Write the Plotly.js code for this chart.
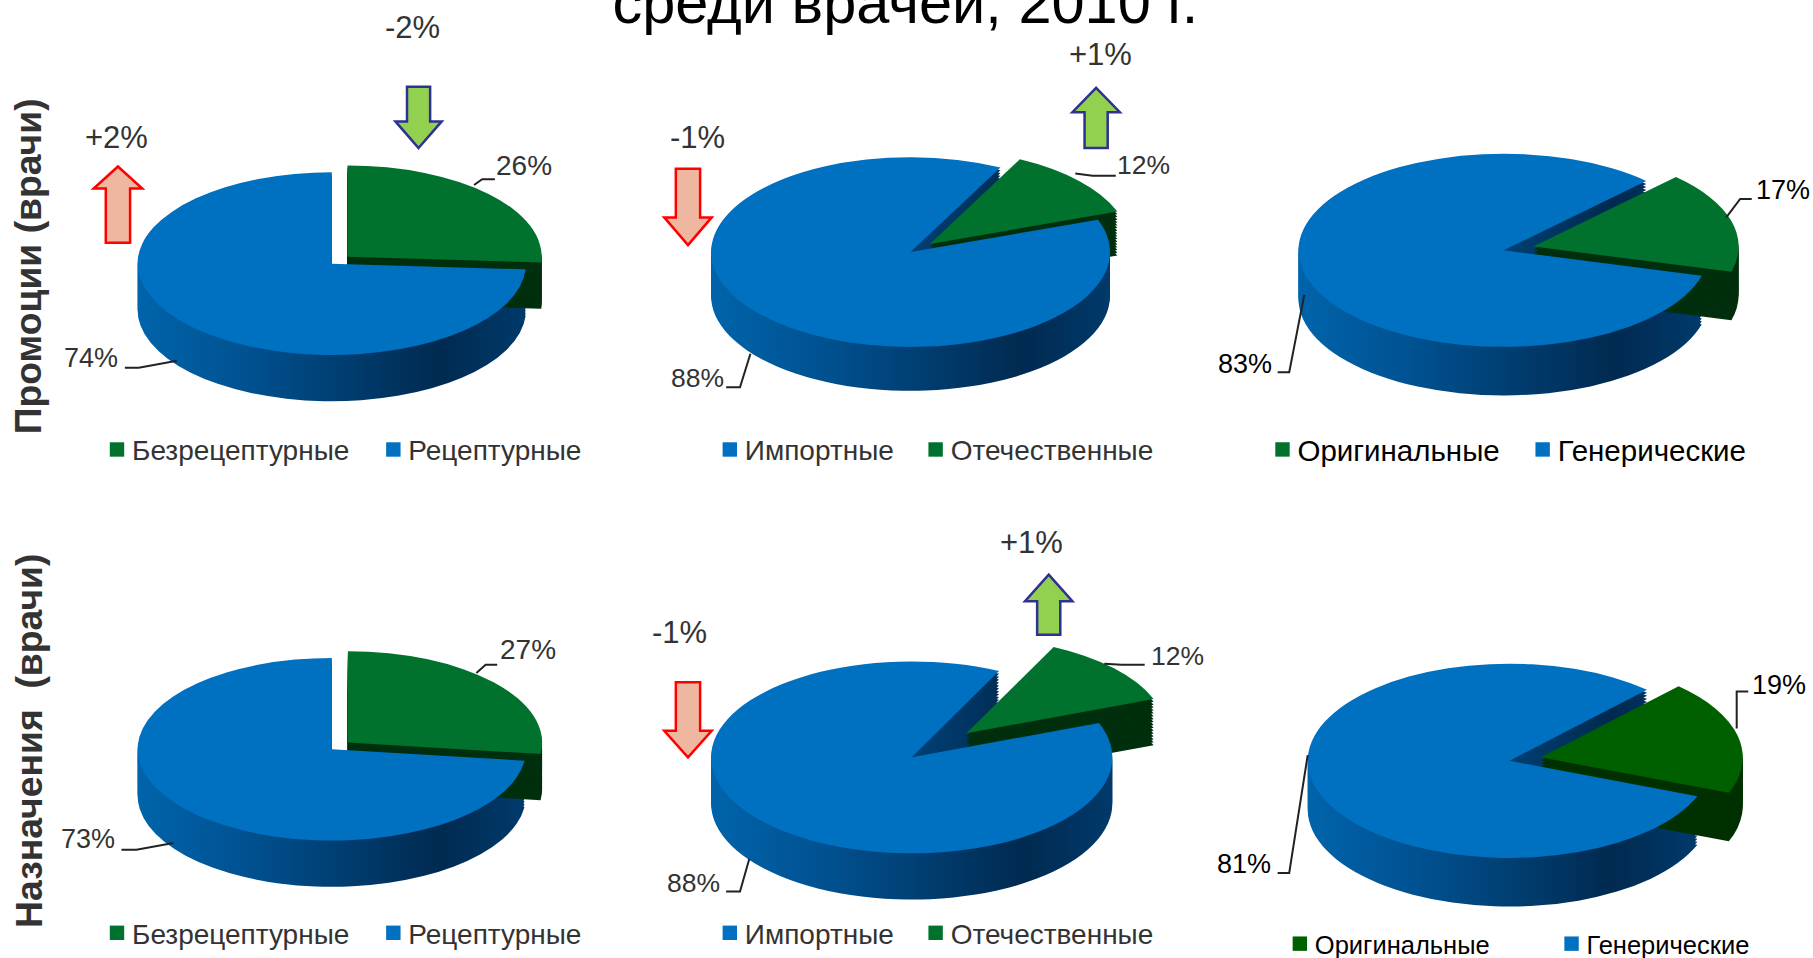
<!DOCTYPE html>
<html><head><meta charset="utf-8">
<script src="https://cdn.plot.ly/plotly-3.0.1.min.js"></script>
<style>html,body{margin:0;padding:0;background:#fff;overflow:hidden}#chart{width:1813px;height:958px}</style>
</head><body><div id="chart"></div>
<script>
// ---- data ----
const chartTitle = 'среди врачей, 2010 г.';
const rowTitles = ['Промоции (врачи)', 'Назначения  (врачи)'];
const labelsOtc = ['Безрецептурные', 'Рецептурные'];
const labelsImp = ['Импортные', 'Отечественные'];
const labelsOrig = ['Оригинальные', 'Генерические'];
const valuesA = [26, 74];
const valuesB = [88, 12];
const valuesC = [17, 83];
const valuesD = [27, 73];
const valuesE = [88, 12];
const valuesF = [19, 81];
const deltasA = ['+2%', '-2%'];
const deltasB = ['-1%', '+1%'];
const deltasE = ['-1%', '+1%'];

// ---- layout helpers (reference picture coordinates, shrunk frame) ----
const W = 1813, H = 958, S = 1813 / 1568;
const fx = x => x * S / W, fy = y => 1 - y * S / H;
const BLUE = '#0070c0', GREEN = '#00722d', GREEN2 = '#006000';
const DARK = '#002f0e', DARK2 = '#003000', WALL = '#00508f', NONE = 'rgba(0,0,0,0)';

const charts = [
 {labels: labelsOtc, values: valuesA, green: 0, rot: 0,  pull: .11, cx: 287,   cy: 228, a: 168,   b: 79,   d: 40, lx: 96,   lx2: 335,  ly: 389, gc: GREEN,  dc: DARK, lf: 28, lc:'#333'},
 {labels: labelsImp, values: valuesB, green: 1, rot: 70, pull: .13, cx: 787.5, cy: 218, a: 172.5, b: 82,   d: 38, lx: 626,  lx2: 804,  ly: 389, gc: GREEN,  dc: DARK, lf: 28, lc:'#333'},
 {labels: labelsOrig,values: valuesC, green: 0, rot: 44, pull: .15, cx: 1300.5,cy: 216.5,a: 177.5, b: 83.5, d: 42, lx: 1104, lx2: 1329, ly: 389, gc: GREEN,  dc: DARK, lf: 29.5, lc:'#000'},
 {labels: labelsOtc, values: valuesD, green: 0, rot: 0,  pull: .11, cx: 287,   cy: 648, a: 168,   b: 79,   d: 40, lx: 96,   lx2: 335,  ly: 807, gc: GREEN,  dc: DARK, lf: 28, lc:'#333'},
 {labels: labelsImp, values: valuesE, green: 1, rot: 69, pull: .37, cx: 788.5, cy: 655, a: 173.5, b: 83,   d: 40, lx: 626,  lx2: 804,  ly: 807, gc: GREEN,  dc: DARK, lf: 28, lc:'#333'},
 {labels: labelsOrig,values: valuesF, green: 0, rot: 43, pull: .16, cx: 1305.5,cy: 658, a: 174.5, b: 84,   d: 42, lx: 1119, lx2: 1354, ly: 816.5, gc: GREEN2, dc: DARK2,lf: 25.5, lc:'#000'}
];
const LEVELS = 16;
const traces = [], meta = [];
charts.forEach((c, ci) => {
  const blue = 1 - c.green;
  const pulls = [0, 0]; pulls[c.green] = c.pull;
  const side = 2 * c.a * S * (1 + c.pull);
  const cpx = Math.min(Math.max(c.cy * S, side / 2), H - side / 2);
  const base = {
    type: 'pie', labels: c.labels, values: c.values, sort: false, direction: 'clockwise',
    rotation: c.rot, pull: pulls, textinfo: 'none', hoverinfo: 'label+percent', showlegend: false,
    domain: {x: [(c.cx * S - side / 2) / W, (c.cx * S + side / 2) / W], y: [1 - (cpx + side / 2) / H, 1 - (cpx - side / 2) / H]},
    legend: ci === 0 ? 'legend' : 'legend' + (ci + 1),
    legendgroup: 'chart' + ci
  };
  const add = (colors, shift, kind, extra) => {
    traces.push(Object.assign({}, base, {marker: {colors: colors.slice(), line: {width: 0}}}, extra || {}));
    meta.push({ci, shift, kind, blue});
  };
  for (let l = LEVELS; l >= 1; l--) { const cl = [NONE, NONE]; cl[blue] = WALL; add(cl, c.d * l / LEVELS, 'wall'); }
  for (let l = LEVELS; l >= 1; l--) { const cl = [NONE, NONE]; cl[c.green] = c.dc; add(cl, c.d * l / LEVELS, 'dark'); }
  const top = [NONE, NONE]; top[c.green] = c.gc; top[blue] = BLUE;
  add(top, 0, 'top', {showlegend: true});
});

// ---- annotations ----
const note = (x, y, text, size, color) => ({xref: 'paper', yref: 'paper', x: fx(x), y: fy(y), text, showarrow: false,
  xanchor: 'center', yanchor: 'middle', font: {size, color: color || '#333', family: 'Liberation Sans, Arial, sans-serif'}});
const pct = v => v + '%';
const annotations = [
  note(453, 143, pct(valuesA[0]), 28), note(79, 310, pct(valuesA[1]), 27),
  note(989, 143, pct(valuesB[1]), 26.5), note(603, 327, pct(valuesB[0]), 26.5),
  note(1542, 164, pct(valuesC[0]), 27, '#000'), note(1077, 315, pct(valuesC[1]), 27, '#000'),
  note(457, 562, pct(valuesD[0]), 28), note(76, 726, pct(valuesD[1]), 27),
  note(1018, 567, pct(valuesE[1]), 26.5), note(600, 764, pct(valuesE[0]), 26.5),
  note(1539, 592, pct(valuesF[0]), 27, '#000'), note(1076, 747, pct(valuesF[1]), 27, '#000'),
  note(101, 119, deltasA[0], 31), note(357, 24, deltasA[1], 31),
  note(603, 119, deltasB[0], 31), note(952, 47, deltasB[1], 31),
  note(588, 547, deltasE[0], 31), note(892, 469, deltasE[1], 31)
];
rowTitles.forEach((t, i) => {
  const n = note(24.5, i ? 640.5 : 230, t, 37.3, '#333');
  n.textangle = -90; n.font.weight = 700; annotations.push(n);
});

// ---- leader lines and change arrows ----
const poly = (pts, close) => pts.map((p, i) => (i ? 'L' : 'M') + fx(p[0]) + ',' + fy(p[1])).join(' ') + (close ? ' Z' : '');
const leader = pts => ({type: 'path', xref: 'paper', yref: 'paper', path: poly(pts), line: {color: '#222', width: 2}});
const arrow = (x, tip, head, end, hw, sw, red) => ({type: 'path', xref: 'paper', yref: 'paper',
  path: poly([[x, tip], [x + hw, head], [x + sw, head], [x + sw, end], [x - sw, end], [x - sw, head], [x - hw, head]], true),
  fillcolor: red ? '#efb7a0' : '#92d050', line: {color: red ? '#ff0000' : '#2e3192', width: 2.5}});
const shapes = [
  leader([[410, 160], [417, 155], [428, 155]]), leader([[108, 318], [120, 318], [153, 312]]),
  leader([[930, 150], [945, 152], [965, 152]]), leader([[628, 335], [640, 335], [649, 306]]),
  leader([[1493, 188], [1505, 172], [1515, 172]]), leader([[1105, 322], [1115, 322], [1128, 255]]),
  leader([[412, 582], [420, 575], [430, 575]]), leader([[105, 735], [118, 735], [150, 729]]),
  leader([[955, 574], [970, 575], [990, 575]]), leader([[628, 771], [640, 771], [648, 743]]),
  leader([[1502, 630], [1502, 598], [1512, 598]]), leader([[1105, 755], [1115, 755], [1131, 653]]),
  arrow(102, 144, 163, 210, 21, 10.5, true), arrow(362, 128, 105, 75, 20, 10, false),
  arrow(595, 212, 188, 146, 20.5, 10.5, true), arrow(948, 76, 97, 128, 20.5, 10, false),
  arrow(595, 655, 632, 590, 20.5, 10.5, true), arrow(907, 497, 520, 549, 20.5, 10, false)
];

// ---- layout ----
const layout = {
  width: W, height: H, margin: {l: 0, r: 0, t: 0, b: 0, autoexpand: false}, paper_bgcolor: '#fff', plot_bgcolor: '#fff',
  font: {family: 'Liberation Sans, Arial, sans-serif'},
  title: {text: chartTitle, x: 783 * S / W, xanchor: 'center', y: fy(20), yanchor: 'bottom',
    font: {size: 59.5, color: '#000', family: 'Liberation Sans, Arial, sans-serif'}},
  annotations, shapes
};
charts.forEach((c, i) => {
  layout[i ? 'legend' + (i + 1) : 'legend'] = {
    orientation: 'h', x: (c.lx * S - 14) / W, xanchor: 'left', y: fy(c.ly), yanchor: 'middle',
    font: {size: c.lf, color: c.lc}, bgcolor: 'rgba(0,0,0,0)', traceorder: 'normal', itemwidth: 30
  };
});

function finish(gd) {
  // Legend rows: tighten the key-to-text gap, enlarge the key, place the second key as in the reference.
  charts.forEach((c, i) => {
    const lg = gd.querySelector('g.' + (i ? 'legend' + (i + 1) : 'legend'));
    if (!lg) return;
    const sb = lg.querySelector('.scrollbox');
    if (sb) sb.removeAttribute('clip-path');
    lg.removeAttribute('clip-path');
    lg.querySelectorAll('.traces').forEach(tr => {
      const t = tr.querySelector('text');
      if (t) { t.setAttribute('x', 35); t.querySelectorAll('tspan').forEach(s => { if (s.hasAttribute('x')) s.setAttribute('x', 35); }); }
      const p = tr.querySelector('path');
      if (p) { const cur = (p.getAttribute('transform') || '').replace(/\s*scale\([^)]*\)/, ''); p.setAttribute('transform', cur + ' scale(1.2)'); }
    });
    const items = lg.querySelectorAll('.traces');
    if (items.length > 1) {
      const m = /translate\(([-\d.]+),\s*([-\d.]+)\)/.exec(items[0].getAttribute('transform'));
      if (m) items[1].setAttribute('transform', `translate(${+m[1] + (c.lx2 - c.lx) * S},${m[2]})`);
    }
  });
}

Plotly.newPlot('chart', traces, layout, {displayModeBar: false}).then(gd => {
  // Tilt every pie into the reference's flattened view and shade the side wall.
  const svg = gd.querySelector('.main-svg');
  const ns = 'http://www.w3.org/2000/svg';
  const defs = svg.querySelector('defs');
  const g = document.createElementNS(ns, 'linearGradient');
  g.setAttribute('id', 'wallGrad');
  [[0, '#0064ab'], [.3, '#00508f'], [.78, '#002a50'], [1, '#003a6b']].forEach(([o, col]) => {
    const s = document.createElementNS(ns, 'stop');
    s.setAttribute('offset', o); s.setAttribute('stop-color', col); g.appendChild(s);
  });
  defs.appendChild(g);
  gd.querySelectorAll('.pielayer .trace').forEach((t, i) => {
    const m = meta[i], c = charts[m.ci], cd = gd.calcdata[i][0];
    const k = c.b / c.a, ty = (c.cy + m.shift) * S;
    t.setAttribute('transform', `translate(0,${ty}) scale(1,${k}) translate(0,${-cd.cy})`);
    if (m.kind === 'wall') t.querySelectorAll('.slice path.surface').forEach(p => {
      if (p.style.fill && !/rgba\(0, 0, 0, 0\)/.test(p.style.fill)) p.style.fill = 'url(#wallGrad)';
    });
  });
  finish(gd);
  setTimeout(() => finish(gd), 30);
});
</script></body></html>
